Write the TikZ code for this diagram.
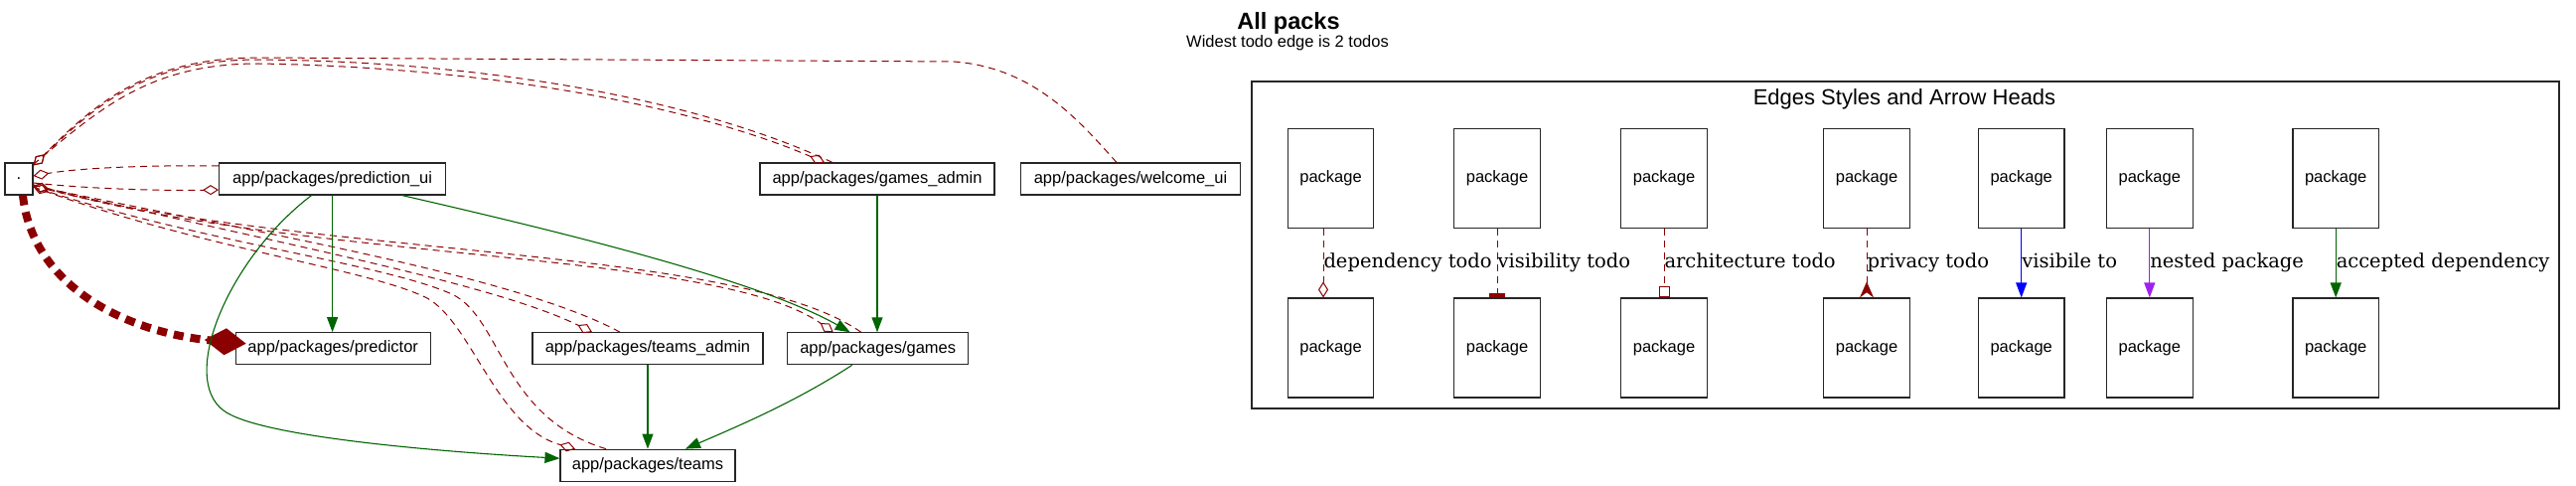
\documentclass[tikz,border=0pt]{standalone}
\usepackage{fontspec}
\setsansfont{Liberation Sans}
\newfontfamily\lblfont{DejaVu Serif}
\usepackage{tikz}
\usetikzlibrary{arrows.meta}
\definecolor{todored}{HTML}{8B0000}
\definecolor{okgreen}{HTML}{006400}
\definecolor{nestpurple}{HTML}{A020F0}

\begin{document}
\begin{tikzpicture}[x=1pt,y=-1pt,
        pkg/.style={draw=black!85,line width=1.1pt,inner sep=0pt,minimum height=32pt,font=\sffamily\fontsize{16.5}{19}\selectfont},
        legbox/.style={pkg,minimum width=86.5pt,minimum height=100pt},
        todo/.style={todored,line width=1pt,dash pattern=on 7pt off 5pt},
        odia/.style={-{Diamond[open,length=16pt,width=10pt]}},
        ok/.style={line width=1.1pt,-{Triangle[length=15pt,width=11pt]}},
        lbl/.style={anchor=west,inner sep=0pt,text=black,text height=14.8pt,text depth=4.6pt,font=\lblfont\fontsize{19.5}{22}\selectfont}]
        \useasboundingbox(0,0)rectangle(2593,489);

        \node[font=\sffamily\bfseries\fontsize{23.5}{26}\selectfont,anchor=base](title) at (1297,29.3){All packs};
        \node[font=\sffamily\fontsize{16.5}{19}\selectfont,anchor=base](subtitle) at (1296,47.3){Widest todo edge is 2 todos};

        \node[pkg,minimum width=28pt](dot) at (19,180){.};
        \node[pkg,minimum width=228pt](pui) at (334.6,180){app/packages/prediction\_ui};
        \node[pkg,minimum width=236pt](gadm) at (883,180){app/packages/games\_admin};
        \node[pkg,minimum width=221pt](welc) at (1138,180){app/packages/welcome\_ui};
        \node[pkg,minimum width=196pt](pred) at (335.2,350.7){app/packages/predictor};
        \node[pkg,minimum width=232pt](tadm) at (652,350.7){app/packages/teams\_admin};
        \node[pkg,minimum width=182pt](games) at (883.7,350.8){app/packages/games};
        \node[pkg,minimum width=176pt](teams) at (652,468.2){app/packages/teams};

        \draw[todo,odia]([yshift=13]pui.west) .. controls (150,166) and (80,169) .. ([yshift=3]dot.east);
        \draw[todo,odia]([yshift=-4]dot.east) .. controls (90,190) and (160,192) .. ([yshift=-11]pui.west);
        \draw[todo,odia]([yshift=-2]dot.north east) .. controls (100,110) and (150,64) .. (260,64) .. controls (500,68) and (700,108) .. ([xshift=-53]gadm.north);
        \draw[todo,odia]([xshift=-45]gadm.north) .. controls (710,104) and (505,62) .. (260,60) .. controls (145,60) and (95,108) .. ([yshift=-3]dot.north east);
        \draw[todo,odia]([xshift=-14]welc.north) .. controls (1085,120) and (1040,68) .. (960,62) -- (260,58) .. controls (145,58) and (92,108) .. ([yshift=-3]dot.north east);
        \draw[todo,odia]([yshift=-6]dot.east) .. controls (250,240) and (490,282) .. ([xshift=-56]tadm.north);
        \draw[todo,odia]([xshift=-28]tadm.north) .. controls (520,278) and (260,234) .. ([yshift=-7]dot.east);
        \draw[todo,odia]([yshift=-6]dot.east) .. controls (300,265) and (720,250) .. ([xshift=-45]games.north);
        \draw[todo,odia]([xshift=-17]games.north) .. controls (745,248) and (310,258) .. ([yshift=-7]dot.east);
        \draw[todo,odia]([yshift=-8]dot.east) .. controls (200,250) and (370,270) .. (430,300) .. controls (475,325) and (500,430) .. ([xshift=-73]teams.north);
        \draw[todo,odia]([xshift=-42]teams.north) .. controls (505,420) and (505,320) .. (455,296) .. controls (385,265) and (210,245) .. ([yshift=-8]dot.east);
        \draw[todored,line width=8pt,dash pattern=on 10pt off 7pt,-{Diamond[length=42pt,width=27pt,line width=1pt]}]([xshift=4]dot.south) .. controls (33,290) and (130,335) .. ([xshift=11,yshift=5]pred.west);

        \draw[ok,okgreen](pui.south)--(pui.south |- pred.north);
        \draw[ok,okgreen]([xshift=-21]pui.south) .. controls (230,260) and (180,380) .. (225,413) .. controls (260,440) and (450,455) .. ([yshift=7]teams.west);
        \draw[ok,okgreen]([xshift=70]pui.south) .. controls (550,230) and (760,280) .. ([xshift=-28]games.north);
        \draw[ok,okgreen](gadm.south)--(gadm.south |- games.north);
        \draw[ok,okgreen](tadm.south)--(teams.north);
        \draw[ok,okgreen]([xshift=-26]games.south) .. controls (800,405) and (740,430) .. ([xshift=38]teams.north);

        \draw[line width=1.1pt,black!85](1260,82)rectangle(2576,411);
        \node[font=\sffamily\fontsize{22}{24}\selectfont,anchor=base](legtitle) at (1917,106){Edges Styles and Arrow Heads};

        \node[legbox](deptop) at (1339.5,179.3){package};
        \node[legbox](depbot) at (1339.5,350){package};
        \node[legbox](vistop) at (1507,179.3){package};
        \node[legbox](visbot) at (1507,350){package};
        \node[legbox](archtop) at (1675,179.3){package};
        \node[legbox](archbot) at (1675,350){package};
        \node[legbox](privtop) at (1879,179.3){package};
        \node[legbox](privbot) at (1879,350){package};
        \node[legbox](seetop) at (2034.7,179.3){package};
        \node[legbox](seebot) at (2034.7,350){package};
        \node[legbox](nesttop) at (2163.8,179.3){package};
        \node[legbox](nestbot) at (2163.8,350){package};
        \node[legbox](acctop) at (2351.2,179.3){package};
        \node[legbox](accbot) at (2351.2,350){package};

        \draw[todo,odia]([xshift=-7.5]deptop.south)--([xshift=-7.5]depbot.north)node[lbl,midway](deplbl){dependency todo};
        \draw[todo,-{Rectangle[length=4.3pt,width=16pt]}](vistop.south)--(visbot.north)node[lbl,midway](vislbl){visibility todo};
        \draw[todo,-{Rectangle[open,length=11pt,width=11pt]}](archtop.south)--(archbot.north)node[lbl,midway](archlbl){architecture todo};
        \draw[todo,-{Stealth[reversed,length=16pt,width=14pt]}](privtop.south)--(privbot.north)node[lbl,midway](privlbl){privacy todo};
        \draw[ok,blue](seetop.south)--(seebot.north)node[lbl,midway](seelbl){visibile to};
        \draw[ok,nestpurple](nesttop.south)--(nestbot.north)node[lbl,midway](nestlbl){nested package};
        \draw[ok,okgreen](acctop.south)--(accbot.north)node[lbl,midway](acclbl){accepted dependency};
    \end{tikzpicture}
\end{document}
